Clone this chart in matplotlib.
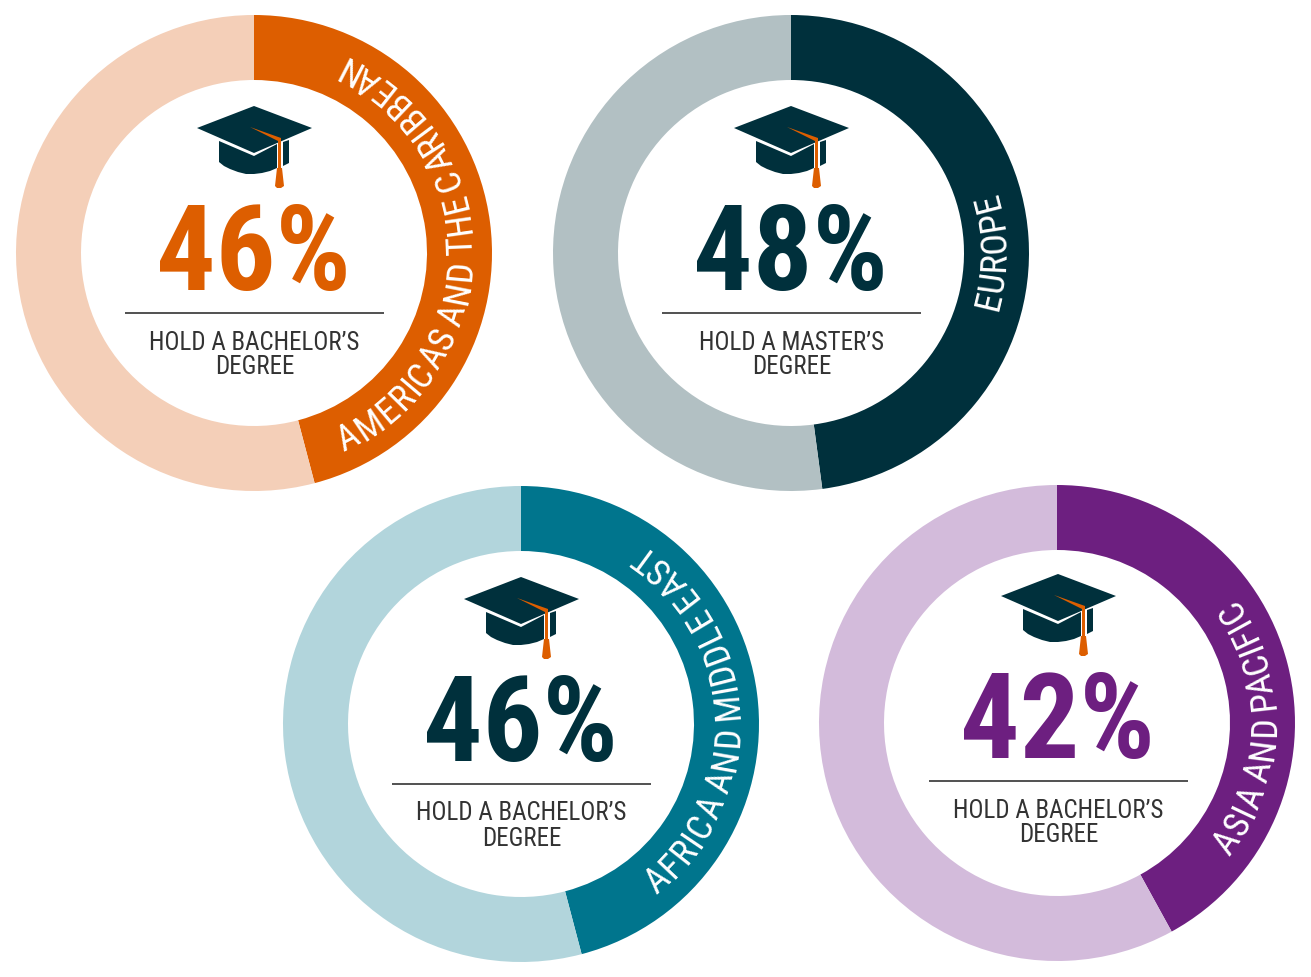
import numpy as np
import matplotlib
matplotlib.use("Agg")
import matplotlib.pyplot as plt
from matplotlib.font_manager import FontProperties
from matplotlib.patches import Polygon
from matplotlib.textpath import text_to_path

W, H = 1311, 977
DPI = 100
FONT = "Roboto Condensed"

# --- data ---
regions = ["AMERICAS AND THE CARIBBEAN", "EUROPE", "AFRICA AND MIDDLE EAST", "ASIA AND PACIFIC"]
shares = [46, 48, 46, 42]
arc_shares = [45.9, 47.9, 45.9, 42.0]
degrees = ["BACHELOR\u2019S", "MASTER\u2019S", "BACHELOR\u2019S", "BACHELOR\u2019S"]
dark_colors = ["#DD5E00", "#00303C", "#00758D", "#6D1F80"]
light_colors = ["#F4CFB8", "#B2C0C3", "#B2D5DC", "#D3BBDB"]
number_colors = ["#DD5E00", "#00303C", "#00303C", "#6D1F80"]

# layout, in reference pixels
ring_centers = [(254, 253), (791, 253), (521, 724), (1057, 723)]
block_centers = [(254, 0), (791, 0), (521, 471), (1058, 468)]
label_spans = [(-66, 66), (-16, 17), (-52, 56.5), (-38, 36)]
baseline_radii = [218, 214, 218, 218]
OUTER, RING = 238, 65
SPACE_CUT = 3.0  # word gaps on the ring are tighter than the font's own
PAIR_KERN = {"PA": 4.0, "EA": 2.5}  # freetype skips the font's GPOS kerning


def py(y):
    return H - y


def draw_cap(ax, cx, dy):
    # graduation cap icon, traced relative to the block center
    navy = "#00303C"
    orange = "#DD5E00"
    def pts(p):
        return [(cx + x, py(y + dy)) for x, y in p]
    ax.add_patch(Polygon(pts([(-57, 128), (0, 106), (58, 128), (0, 153)]), fc=navy, ec="none"))
    ax.add_patch(Polygon(pts([(-35, 141), (0, 156), (23, 144), (23, 168), (16, 171), (8, 173), (0, 174),
                              (-8, 174), (-16, 172), (-24, 169), (-30, 166), (-35, 162)]), fc=navy, ec="none"))
    ax.add_patch(Polygon(pts([(29, 142), (35, 140), (35, 163), (29, 166)]), fc=navy, ec="none"))
    ax.add_patch(Polygon(pts([(-4, 127), (27, 138), (27, 169), (24, 169), (24, 141)]), fc=orange, ec="none"))
    ax.add_patch(Polygon(pts([(23, 168), (28, 168), (30, 186), (27, 188), (23, 188), (21, 186)]), fc=orange, ec="none"))


def draw_arc_text(ax, s, center, span, radius, fp):
    # one text per letter, tops pointing at the ring center
    cx, cy = center
    def width(txt):
        return text_to_path.get_text_width_height_descent(txt, fp, False)[0] * DPI / 72
    def cut(txt):
        pairs = sum(PAIR_KERN.get(txt[j:j + 2], 0) for j in range(len(txt) - 1))
        return SPACE_CUT * txt.count(" ") + pairs
    total = width(s) - cut(s)
    start, end = span
    for i, ch in enumerate(s):
        if ch == " ":
            continue
        # prefix width keeps the spacing, own width centers the letter on its slot
        mid = width(s[:i + 1]) - width(ch) / 2 - cut(s[:i + 1])
        theta = start + (end - start) * mid / total
        t = np.radians(theta)
        ax.text(cx + radius * np.cos(t), py(cy) + radius * np.sin(t), ch,
                rotation=theta + 90, rotation_mode="anchor", ha="center", va="baseline",
                color="white", fontproperties=fp)


fig = plt.figure(figsize=(W / DPI, H / DPI), dpi=DPI)
ax = fig.add_axes([0, 0, 1, 1])

for i in range(4):
    cx, cy = ring_centers[i]
    ax.pie([arc_shares[i], 100 - arc_shares[i]], colors=[dark_colors[i], light_colors[i]],
           startangle=90, counterclock=False, radius=OUTER, center=(cx, py(cy)),
           wedgeprops=dict(width=RING, linewidth=0))
    fp = FontProperties(family=FONT, size=26)
    draw_arc_text(ax, regions[i], (cx, cy), label_spans[i], baseline_radii[i], fp)

    bx, dy = block_centers[i]
    draw_cap(ax, bx, dy)
    ax.text(bx - 1, py(290 + dy), f"{shares[i]}%", color=number_colors[i], ha="center", va="baseline",
            family=FONT, weight="bold", fontsize=85)
    ax.plot([bx - 129.5, bx + 129.5], [py(313 + dy)] * 2, color="#333333", lw=1.2, solid_capstyle="butt")
    ax.text(bx + 0.5, py(349.5 + dy), f"HOLD A {degrees[i]}", color="#333333", ha="center", va="baseline",
            family=FONT, fontsize=18)
    ax.text(bx + 0.5, py(374.5 + dy), "DEGREE", color="#333333", ha="center", va="baseline",
            family=FONT, fontsize=18)

ax.set_xlim(0, W)
ax.set_ylim(0, H)
ax.set_aspect("auto")
ax.axis("off")
fig.savefig("out.png", dpi=DPI, facecolor="white")
